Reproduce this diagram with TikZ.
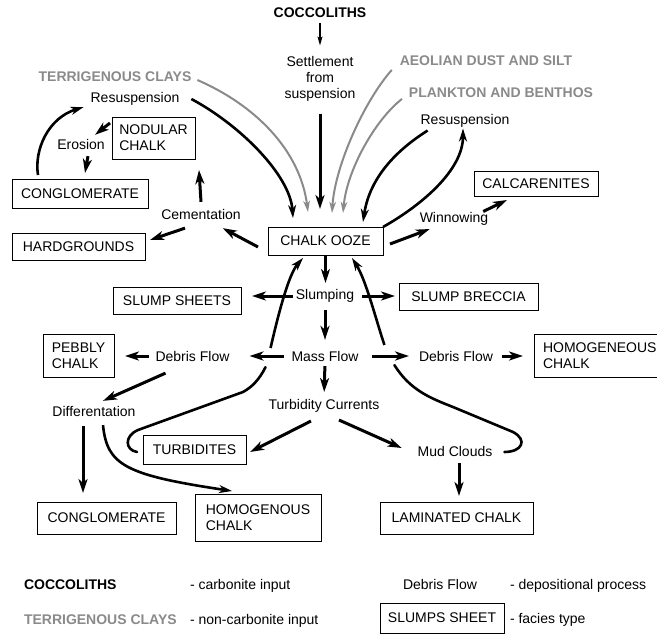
\documentclass[tikz,border=0pt]{standalone}
\usepackage{fontspec}
\setmainfont{Liberation Sans}
\usetikzlibrary{arrows.meta,calc}
\definecolor{clay}{RGB}{138,138,138}
\begin{document}
\begin{tikzpicture}[x=1pt,y=-1pt,
  font=\fontsize{14}{16}\selectfont,
  proc/.style={inner sep=1pt,outer sep=0pt,align=center},
  carb/.style={inner sep=1pt,outer sep=0pt,font=\fontsize{14}{16}\selectfont\bfseries},
  noncarb/.style={carb,text=clay},
  facies/.style={draw,line width=0.9pt,inner sep=0pt,outer sep=0pt,align=left},
  arr/.style={line width=3pt,-{Stealth[length=14pt,width=9pt,inset=4pt]}},
  carr/.style={line width=2.6pt,-{Stealth[length=13pt,width=8pt,inset=4pt]}},
  garr/.style={line width=2pt,color=clay,-{Stealth[length=11pt,width=6.5pt,inset=3pt]}},
  tarr/.style={line width=1.3pt,-{Stealth[length=9pt,width=5pt,inset=2pt]}},
  cline/.style={line width=2.6pt,line cap=round,line join=round},
]
\useasboundingbox (0,0) rectangle (657,634);
\clip (0,0) rectangle (657,634);

% ---- inputs and processes
\node[carb] (cocco) at (320,13) {COCCOLITHS};
\node[proc] (settle) at (320,79) {Settlement\\from\\suspension};
\node[noncarb] (terr) at (115,77) {TERRIGENOUS CLAYS};
\node[noncarb] (aeol) at (486,61) {AEOLIAN DUST AND SILT};
\node[noncarb] (plank) at (501,93) {PLANKTON AND BENTHOS};
\node[proc] (resL) at (135,99) {Resuspension};
\node[proc] (resR) at (465,121) {Resuspension};
\node[proc] (eros) at (81,144) {Erosion};
\node[proc] (cem) at (201,214) {Cementation};
\node[proc] (winn) at (454,219) {Winnowing};
\node[proc] (slump) at (325,296) {Slumping};
\node[proc] (mass) at (325,356) {Mass Flow};
\node[proc] (debL) at (192.5,356) {Debris Flow};
\node[proc] (debR) at (456,356) {Debris Flow};
\node[proc] (turb) at (324,406) {Turbidity Currents};
\node[proc] (diff) at (94,411) {Differentation};
\node[proc] (mud) at (455,451) {Mud Clouds};

% ---- facies boxes
\node[facies,minimum width=83,minimum height=42] (nod) at (153.5,138) {NODULAR\\CHALK};
\node[facies,minimum width=136,minimum height=29] (cong1) at (80,193.5) {CONGLOMERATE};
\node[facies,minimum width=133,minimum height=27] (hard) at (78.5,246.5) {HARDGROUNDS};
\node[facies,minimum width=124,minimum height=25] (calc) at (536,183.5) {CALCARENITES};
\node[facies,minimum width=115,minimum height=28] (ooze) at (325.5,241) {CHALK OOZE};
\node[facies,minimum width=128,minimum height=27] (sheets) at (177,300.5) {SLUMP SHEETS};
\node[facies,minimum width=139,minimum height=27] (brec) at (468.5,296.5) {SLUMP BRECCIA};
\node[facies,minimum width=71,minimum height=43] (pebbly) at (78.5,355.5) {PEBBLY\\CHALK};
\node[facies,anchor=west,minimum height=43,inner xsep=9pt,text width=114pt] (homR) at (534,355.5) {HOMOGENEOUS\\CHALK};
\node[facies,minimum width=103,minimum height=29] (turbs) at (194.5,449.5) {TURBIDITES};
\node[facies,minimum width=139,minimum height=32] (cong2) at (106.5,518) {CONGLOMERATE};
\node[facies,minimum width=126,minimum height=47] (homL) at (258,517.5) {HOMOGENOUS\\CHALK};
\node[facies,minimum width=153,minimum height=32] (lam) at (456.5,518) {LAMINATED CHALK};

% ---- legend (aligned on baselines)
\node[carb,anchor=base west] (lgC) at (23,589) {COCCOLITHS};
\node[proc,anchor=base west] (lgCt) at (189,589) {- carbonite input};
\node[noncarb,anchor=base west] (lgT) at (23,624) {TERRIGENOUS CLAYS};
\node[proc,anchor=base west] (lgTt) at (189,624) {- non-carbonite input};
\node[proc,anchor=base] (lgD) at (440,589) {Debris Flow};
\node[proc,anchor=base west] (lgDt) at (509,589) {- depositional process};
\node[facies,minimum width=124,minimum height=30] (lgS) at (442,618) {SLUMPS SHEET};
\node[proc,anchor=base west] (lgSt) at (509,623) {- facies type};

% ---- tip points near the chalk ooze
\coordinate (tTL) at ($(ooze.north west)+(25,-9)$);
\coordinate (tTR) at ($(ooze.north east)+(-20,-5)$);

% ---- top inputs
\draw[tarr,shorten <=4pt,shorten >=10pt] (cocco) -- (settle);
\draw[arr,shorten <=11pt,shorten >=18pt] (settle.south) -- (settle.south |- ooze.north);
\draw[garr] ($(terr.east)+(5,3)$) .. controls (255,105) and (300,150) .. ($(ooze.north west)+(40,-15)$);
\draw[garr] ($(aeol.south west)+(-7,3)$) .. controls (365,100) and (335,165) .. ($(ooze.north)+(6.5,-14)$);
\draw[garr] ($(plank.south west)+(-6,0)$) .. controls (375,120) and (347,170) .. ($(ooze.north)+(17.5,-14)$);
\draw[carr] ($(resL.east)+(11,0)$) .. controls (240,125) and (290,175) .. (tTL);
\draw[carr] ($(resR.south west)+(8,2)$) .. controls (400,148) and (370,175) .. (tTR);
\draw[carr] (ooze.north east) .. controls (422,205) and (463,170) .. ($(resR.south)+(-2,0)$);

% ---- winnowing
\draw[arr] ($(ooze.east)+(7,3)$) -- ($(winn.south west)+(11,2.5)$);
\draw[arr] ($(winn.north east)+(-6,0)$) -- ($(calc.south west)+(33,4)$);

% ---- left cycle
\draw[arr] ($(nod.north west)+(-2,6)$) -- ($(eros.north)+(14,-3)$);
\draw[arr] ($(eros.south)+(7,6)$) -- ($(cong1.north)+(5,-6)$);
\draw[carr] ($(cong1.north west)+(26,-4)$) .. controls (34,150) and (48,118) .. ($(resL.south west)+(-6,0.5)$);
\draw[arr] ($(cem.north)+(0,-6)$) -- ($(nod.south east)+(4,11)$);
\draw[arr] ($(ooze.west)+(-10,6)$) -- ($(cem.south east)+(-19,8)$);
\draw[arr] ($(cem.south)+(-16,8)$) -- ($(hard.east)+(5,-6.5)$);

% ---- slumping and mass flow
\draw[arr,shorten <=1pt,shorten >=5.5pt] (ooze.south) -- (ooze.south |- slump.north);
\draw[arr,shorten <=2pt,shorten >=11pt] (slump.west) -- (slump.west -| sheets.east);
\draw[arr,shorten <=7pt,shorten >=4pt] (slump.east) -- (slump.east -| brec.west);
\draw[arr,shorten <=6.5pt,shorten >=10pt] (slump.south) -- (mass.north);
\draw[arr,shorten <=7pt,shorten >=19pt] (mass.west) -- (debL.east);
\draw[arr,shorten <=13pt,shorten >=9pt] (mass.east) -- (debR.west);
\draw[arr,shorten <=8pt,shorten >=11pt] (debR.east) -- (debR.east -| homR.west);
\draw[arr,shorten <=6pt,shorten >=11pt] (debL.west) -- (debL.west -| pebbly.east);
\draw[carr] ($(mass.west)+(-20,-8)$) .. controls (277,320) and (288,275) .. ($(ooze.south west)+(35,3)$);
\draw[carr] ($(mass.east)+(25,-11)$) .. controls (376,320) and (366,280) .. ($(ooze.south east)+(-31,3)$);

% ---- debris flow (left) and differentiation
\draw[arr] ($(debL.south)+(-27,11)$) -- ($(diff.north)+(9,-4)$);
\draw[arr] ($(diff.south)+(-11,9)$) -- ($(cong2.north)+(-23.5,-9)$);
\draw[carr] ($(diff.south)+(9,8)$) .. controls (107,465) and (125,475) .. ($(homL.north)+(-26,-3)$);

% ---- turbidity currents
\draw[arr,shorten <=4pt,shorten >=6.5pt] (mass.south) -- (turb.north);
\draw[arr] ($(turb.south)+(-13,7.5)$) -- ($(turbs.east)+(4,2.5)$);
\draw[arr] ($(turb.south)+(15,6.5)$) -- ($(mud.west)+(-15,-3)$);
\draw[arr] ($(mud.south)+(4,6)$) -- ($(lam.north)+(2.5,-6)$);

% ---- long hooked lines
\draw[cline] ($(mass.south west)+(-25,5)$) .. controls (259,380) and (252,387) .. (243,392)
  -- (138,430) .. controls (124,436) and (125,450) .. ($(turbs.west)+(-6,2.5)$);
\draw[cline] ($(mass.south east)+(35,3)$) .. controls (410,390) and (430,398) .. (453,407)
  -- (513,432) .. controls (528,440) and (522,452) .. ($(mud.east)+(11,1)$);
\end{tikzpicture}
\end{document}
